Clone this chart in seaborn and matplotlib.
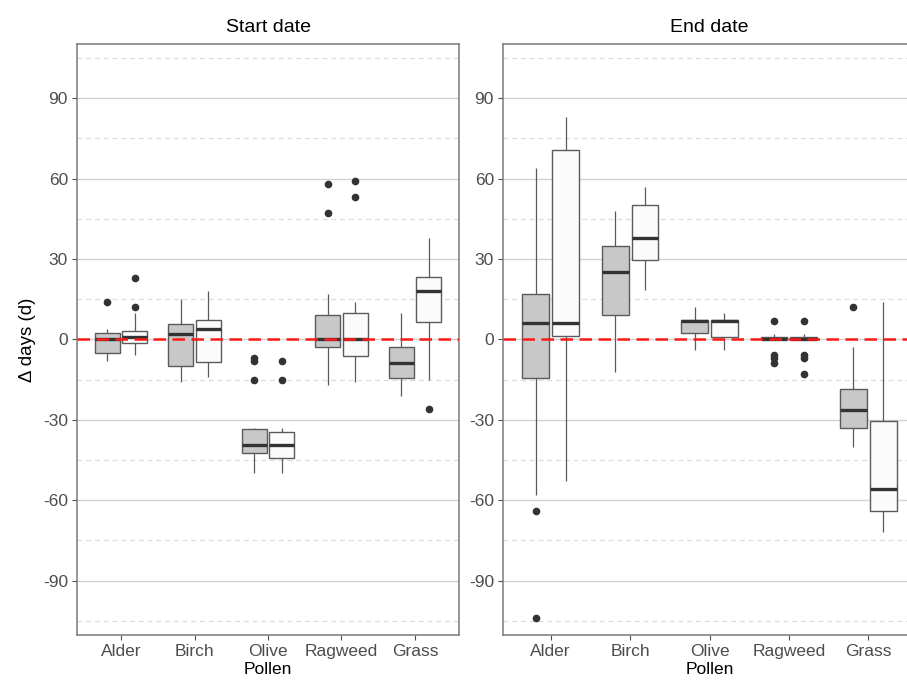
import matplotlib
matplotlib.use("Agg")
import matplotlib.pyplot as plt
import numpy as np
import pandas as pd
import seaborn as sns

# Pollen types shown on the x axis
pollen = ["Alder", "Birch", "Olive", "Ragweed", "Grass"]
series = ["Period 1", "Period 2"]
series_colors = {"Period 1": "#c8c8c8", "Period 2": "#fbfbfb"}

# Change in season start date (days), period 1
start_p1 = {
    "Alder":   [-8, -7, -6, -5, -3, -1, 0, 1, 2, 2.2, 3, 4, 14],
    "Birch":   [-16, -13, -11, -10, -5, 0, 2, 3, 5, 5.8, 9, 12, 15],
    "Olive":   [-50, -47, -45, -44, -42.5, -41, -40.5, -40, -39.3, -38, -37, -35,
                -33.6, -33.2, -15, -8, -7],
    "Ragweed": [-17, -10, -5, -3, -1, 0, 0, 3, 6, 9.2, 17, 47, 58],
    "Grass":   [-21, -18, -16, -14.6, -12, -10, -9, -7, -5, -2.8, 2, 6, 10],
}
# Change in season start date (days), period 2
start_p2 = {
    "Alder":   [-6, -4, -2, -1.2, 0, 0.5, 1, 2, 3, 3.3, 10, 12, 23],
    "Birch":   [-14, -12, -10, -8.5, -3, 1, 4, 5, 6, 7.3, 10, 14, 18],
    "Olive":   [-50, -48, -46, -44.3, -42, -40, -39.3, -38, -36, -34.7, -33.2, -15, -8],
    "Ragweed": [-16, -12, -9, -6.3, -3, -1, 0, 2, 5, 10, 14, 53, 59],
    "Grass":   [-26, -15, 2, 6.3, 12, 16, 18, 20, 22, 23.4, 28, 33, 38],
}
# Change in season end date (days), period 1
end_p1 = {
    "Alder":   [-104, -64, -58, -14.5, -5, 2, 6, 9, 13, 17, 30, 45, 64],
    "Birch":   [-12, 0, 5, 9, 15, 20, 25, 28, 32, 35, 40, 44, 48],
    "Olive":   [-4, -1, 1, 2.2, 4, 6, 6.8, 7, 7.1, 7.3, 9, 11, 12],
    "Ragweed": [-9, -7, -6, 0, 0, 0, 0, 0, 0, 0, 1, 1, 1, 1, 2, 2, 7],
    "Grass":   [-40, -37, -35, -33.2, -30, -28, -26.3, -24, -21, -18.5, -12, -3, 12],
}
# Change in season end date (days), period 2
end_p2 = {
    "Alder":   [-53, -20, -5, 1.3, 3, 5, 6, 15, 40, 70.7, 75, 80, 83],
    "Birch":   [18.3, 22, 26, 29.5, 32, 35, 37.8, 42, 46, 50, 53, 55, 57],
    "Olive":   [-4, -2, 0, 1, 3, 5, 6.8, 7, 7.1, 7.3, 8, 9, 10],
    "Ragweed": [-13, -7, -6, 0, 0, 0, 0, 0, 0, 0, 1, 1, 1, 1, 2, 2, 7],
    "Grass":   [-72, -69, -66, -64.2, -61, -58, -56, -50, -40, -30.5, -15, 0, 14],
}

y_ticks = [-90, -60, -30, 0, 30, 60, 90]
y_minor = [-105, -75, -45, -15, 15, 45, 75, 105]
panel_titles = ["Start date", "End date"]


def to_frame(p1, p2):
    rows = []
    for name, d in zip(series, (p1, p2)):
        for pol in pollen:
            for v in d[pol]:
                rows.append({"Pollen": pol, "Series": name, "value": v})
    return pd.DataFrame(rows)


sns.set_theme(style="white")
plt.rcParams["font.family"] = ["Liberation Sans", "DejaVu Sans"]
plt.rcParams["axes.unicode_minus"] = False

fig = plt.figure(figsize=(9.07, 6.81), dpi=100)
W, H = 907, 681
ax_start = fig.add_axes([77 / W, 1 - 635 / H, 382 / W, 591 / H])
ax_end = fig.add_axes([503 / W, 1 - 635 / H, 413 / W, 591 / H])

for ax, (p1, p2), title in zip(
    (ax_start, ax_end), ((start_p1, start_p2), (end_p1, end_p2)), panel_titles
):
    df = to_frame(p1, p2)
    ax.set_ylim(-110.3, 110.2)
    ax.set_yticks(y_ticks)
    ax.set_yticks(y_minor, minor=True)
    ax.grid(which="major", axis="y", color="#d2d2d2", linewidth=1.0, zorder=0)
    ax.grid(which="minor", axis="y", color="#dcdcdc", linewidth=0.9,
            linestyle=(0, (4, 3)), zorder=0)
    ax.set_axisbelow(True)

    sns.boxplot(
        data=df, x="Pollen", y="value", hue="Series",
        order=pollen, hue_order=series, palette=series_colors,
        width=0.75, gap=0.1, linewidth=1.0, linecolor="#5a5a5a",
        showcaps=False, fliersize=4.5,
        flierprops=dict(marker="o", markerfacecolor="#333333",
                        markeredgecolor="#333333"),
        medianprops=dict(color="#333333", linewidth=2.4),
        whiskerprops=dict(color="#5a5a5a", linewidth=0.9),
        legend=False, ax=ax, zorder=2,
    )
    # zero reference line drawn over the boxes
    ax.axhline(0, color="#ff1a1a", linewidth=1.8, linestyle=(0, (5, 2.6)), zorder=3)

    ax.set_xlim(-0.6, 4.6)
    ax.set_title(title, fontsize=14, color="black", pad=9)
    ax.set_xlabel("Pollen", fontsize=12.5, color="black", labelpad=2)
    ax.set_ylabel("")
    ax.tick_params(axis="both", which="major", labelsize=12.5, labelcolor="#4d4d4d",
                   color="#4d4d4d", length=3.5, width=0.8, direction="out",
                   left=True, bottom=True, pad=3)
    ax.tick_params(axis="y", which="minor", length=0)
    for s in ax.spines.values():
        s.set_color("#7a7a7a")
        s.set_linewidth(1.1)

ax_start.set_ylabel("\u0394 days (d)", fontsize=13.5, color="black", labelpad=5)

fig.savefig("out.png", dpi=100)
